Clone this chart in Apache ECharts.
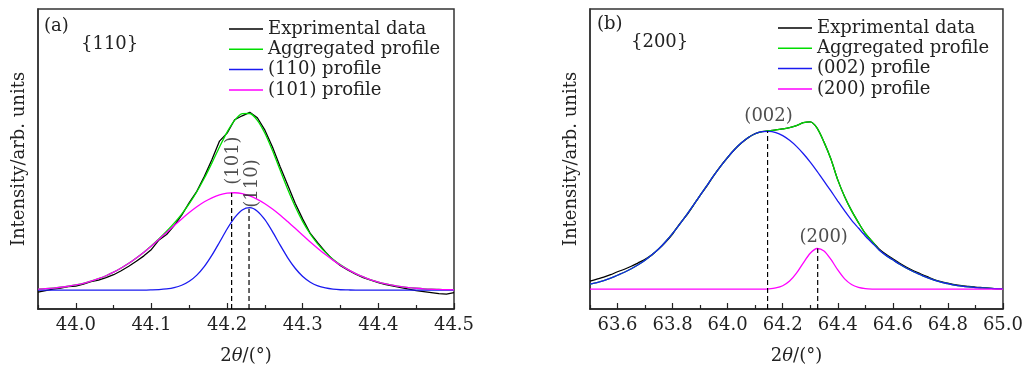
<!DOCTYPE html>
<html><head><meta charset="utf-8">
<script src="https://cdn.jsdelivr.net/npm/echarts@6/dist/echarts.min.js"></script>
<style>html,body{margin:0;padding:0;background:#fff}#c{width:1026px;height:370px}</style>
</head><body><div id="c"></div>
<script>
// ---------- Panel (a) data : 2θ (deg) vs intensity (arb.) ----------
const xA = [43.95,43.96,43.97,43.98,43.99,44.00,44.01,44.02,44.03,44.04,44.05,44.06,44.07,44.08,44.09,
  44.10,44.11,44.12,44.13,44.14,44.15,44.16,44.17,44.18,44.19,44.20,44.21,44.22,44.23,44.24,44.25,
  44.26,44.27,44.28,44.29,44.30,44.31,44.32,44.33,44.34,44.35,44.36,44.37,44.38,44.39,44.40,44.41,
  44.42,44.43,44.44,44.45,44.46,44.47,44.48,44.49,44.50];
const expA = [17.0,18.5,20.0,21.0,22.5,23.0,25.0,27.5,29.0,31.5,34.5,38.5,43.0,48.0,53.5,
  60.0,69.5,75.0,84.0,94.5,107.0,118.5,133.5,150.5,169.0,177.0,190.5,194.5,198.0,192.5,180.0,
  163.0,143.5,125.0,106.5,90.5,76.0,66.5,57.5,49.5,43.5,39.0,35.0,31.5,29.0,26.5,24.5,
  23.0,21.5,20.0,18.5,17.5,16.5,15.5,15.0,16.5];
const aggA = [20.1,20.5,21.1,21.9,22.9,24.3,25.9,28.0,30.5,33.5,37.1,41.3,46.0,51.4,57.2,
  63.7,70.7,78.3,86.5,95.6,106.0,118.0,131.8,147.1,163.1,178.1,189.9,196.7,196.8,189.9,176.9,
  159.5,140.1,120.8,103.2,88.0,75.5,65.3,57.0,50.2,44.5,39.8,35.6,32.3,29.4,27.1,25.2,
  23.7,22.5,21.6,20.9,20.3,19.9,19.7,19.5,19.3];
const p110A = [19,19,19,19,19,19,19,19,19,19,19,19,19,19,19,
  19.2,19.5,20.2,21.5,23.9,27.9,34.1,42.9,54.2,67.2,80.5,91.9,99.6,102.0,98.5,89.9,
  77.9,64.5,51.8,41.0,32.7,27.0,23.3,21.2,20.0,19.4,19.2,19,19,19,19,19,
  19,19,19,19,19,19,19,19,19];
const p101A = [20.1,20.5,21.1,21.9,22.9,24.3,25.9,28.0,30.5,33.5,37.1,41.3,46.0,51.4,57.2,
  63.5,70.2,77.1,84.0,90.7,97.1,102.9,107.9,111.9,114.9,116.6,117.0,116.1,113.8,110.4,106.0,
  100.6,94.6,88.0,81.2,74.3,67.5,61.0,54.8,49.2,44.1,39.6,35.6,32.3,29.4,27.1,25.2,
  23.7,22.5,21.6,20.9,20.3,19.9,19.7,19.5,19.3];

// ---------- Panel (b) data ----------
const xB = [63.500,63.525,63.550,63.575,63.600,63.625,63.650,63.675,63.700,63.725,63.750,63.775,
  63.800,63.825,63.850,63.875,63.900,63.925,63.950,63.975,64.000,
  64.025,64.050,64.075,64.100,64.125,64.150,64.175,64.200,64.225,64.250,64.275,64.300,64.325,
  64.350,64.375,64.400,64.425,64.450,64.475,64.500,
  64.525,64.550,64.575,64.600,64.625,64.650,64.675,64.700,64.725,64.750,64.775,64.800,64.825,
  64.850,64.875,64.900,64.925,64.950,64.975,65.000];
const expB = [28,30,32,34.5,37.5,40,43,46.5,50,54.5,60.5,67.5,75.5,85.5,94,104,114.5,124,134.5,144,152.5,
  160.5,167,172.5,176.5,178.5,179.5,180.3,181.3,182.5,184.5,187.5,188.3,182,168,151,130,113,99,87,76,
  68,60.5,55,50.5,46,42,38.5,35.5,32.5,29.5,27.5,26,24.5,23.5,22.8,22,21.5,21,20.5,20.2];
const aggB = [25,26.5,28.5,31,34,37,40.5,44.5,49,54.5,60.6,68.0,76.2,85.0,94.4,104.3,114.3,124.4,134.4,143.9,152.7,
  160.6,167.3,172.6,176.4,178.5,179.5,180.3,181.3,182.5,184.5,187.5,188.3,182,168,151,130,113,99,87,76,
  68,59.5,54,49.5,45,41,37.5,34.5,31.5,29,27,25.5,24,23,22.2,21.6,21.2,20.8,20.4,20.2];
const p002B = [25,26.5,28.5,31,34,37,40.5,44.5,49,54.5,60.6,68.0,76.2,85.0,94.4,104.3,114.3,124.4,134.4,143.9,152.7,
  160.6,167.3,172.6,176.4,178.5,178.9,177.6,174.5,169.8,163.7,156.3,147.9,138.6,128.8,118.8,108.7,98.7,89.5,81.5,73.5,
  66.5,59.5,54,49.5,45,41,37.5,34.5,31.5,29,27,25.5,24,23,22.2,21.6,21.2,20.8,20.4,20.2];
const p200B = [20,20,20,20,20,20,20,20,20,20,20,20,20,20,20,20,20,20,20,20,20,
  20,20,20,20,20,20.3,21.2,23.4,28.1,36.1,46.5,56.1,60.9,58.4,49.9,39.3,30.3,24.6,21.7,20.5,
  20.1,20,20,20,20,20,20,20,20,20,20,20,20,20,20,20,20,20,20,20];

// ---------- Axis ticks ----------
const ticksA = [44.0,44.1,44.2,44.3,44.4,44.5];
const minorA = [43.95,44.05,44.15,44.25,44.35,44.45];
const ticksB = [63.6,63.8,64.0,64.2,64.4,64.6,64.8,65.0];
const minorB = [63.5,63.7,63.9,64.1,64.3,64.5,64.7,64.9];

// ---------- Peak markers ----------
const peakNamesA = ['(101)','(110)'];
const peakXA = [44.206, 44.229];
const peakYA = [117, 101];
const peakNamesB = ['(002)','(200)'];
const peakXB = [64.145, 64.327];
const peakYB = [179, 61];

const namesA = ['Exprimental data','Aggregated profile','(110) profile','(101) profile'];
const namesB = ['Exprimental data','Aggregated profile','(002) profile','(200) profile'];
const yMax = 302;

// ---------- styling ----------
const FONT = 'DejaVu Serif';
const FS = 18;
const colors = ['#000000','#00dd00','#1a1af0','#ff00ff'];
const zip = (xs, ys) => xs.map((x, i) => [x, ys[i]]);

function mainX(grid, min, max, ticks) {
  return {
    type:'value', gridIndex:grid, min:min, max:max, position:'bottom',
    axisLine:{show:true, onZero:false, lineStyle:{color:'#222', width:1.5}},
    axisTick:{show:true, inside:true, length:6, customValues:ticks, lineStyle:{color:'#222', width:1.2}},
    axisLabel:{show:true, customValues:ticks, formatter:v => v.toFixed(1), margin:7,
      fontFamily:FONT, fontSize:FS, color:'#222'},
    splitLine:{show:false},
    name:'2{i|θ}/(°)', nameLocation:'middle', nameGap:38,
    nameTextStyle:{fontFamily:FONT, fontSize:FS, color:'#222',
      rich:{i:{fontFamily:FONT, fontSize:FS, fontStyle:'italic', color:'#222'}}}
  };
}
function minorX(grid, min, max, ticks) {
  return {
    type:'value', gridIndex:grid, min:min, max:max, position:'bottom',
    axisLine:{show:false, onZero:false},
    axisTick:{show:true, inside:true, length:4, customValues:ticks, lineStyle:{color:'#222', width:1.2}},
    axisLabel:{show:false}, splitLine:{show:false}
  };
}
function yAx(grid) {
  return {
    type:'value', gridIndex:grid, min:0, max:yMax,
    axisLine:{show:true, lineStyle:{color:'#333', width:1.5}},
    axisTick:{show:false}, axisLabel:{show:false}, splitLine:{show:false},
    name:'Intensity/arb. units', nameLocation:'middle', nameGap:10,
    nameTextStyle:{fontFamily:FONT, fontSize:FS, color:'#222'}
  };
}
function curve(name, xi, yi, data, color, smooth, z) {
  return {
    type:'line', name:name, xAxisIndex:xi, yAxisIndex:yi, data:data,
    showSymbol:false, symbol:'none', smooth:smooth,
    color:color, lineStyle:{color:color, width:1.3}, z:z, silent:true, clip:true
  };
}
function dashLines(xi, yi, xs, ys) {
  return xs.map((x, i) => ({
    type:'line', xAxisIndex:xi, yAxisIndex:yi, data:[[x, 0],[x, ys[i]]],
    showSymbol:false, symbol:'none', lineStyle:{color:'#000', width:1.2, type:[5,3]}, z:10, silent:true
  }));
}
function peakLabels(xi, yi, names, xs, ys, lstyles) {
  return {
    type:'scatter', xAxisIndex:xi, yAxisIndex:yi, symbolSize:0, z:11, silent:true,
    data: names.map((n, i) => ({name:n, value:[xs[i], ys[i]], label:lstyles[i]}))
  };
}
const labBase = {show:true, formatter:p => p.name, fontFamily:FONT, fontSize:FS, color:'#222'};
const labA = [
  Object.assign({}, labBase, {position:'top', distance:8, rotate:90, align:'left', verticalAlign:'middle', offset:[0,2]}),
  Object.assign({}, labBase, {position:'top', distance:1, rotate:90, align:'left', verticalAlign:'middle', offset:[0,3]})
];
const labB = [
  Object.assign({}, labBase, {position:'top', distance:6, offset:[1,0]}),
  Object.assign({}, labBase, {position:'top', distance:2, offset:[6,0]})
];

const chart = echarts.init(document.getElementById('c'), null, {renderer:'canvas'});
chart.setOption({
  animation:false,
  backgroundColor:'#fff',
  grid:[
    {left:38, top:9, width:416, height:302, show:true, borderColor:'#333', borderWidth:1.5, backgroundColor:'transparent'},
    {left:590, top:9, width:416, height:302, show:true, borderColor:'#333', borderWidth:1.5, backgroundColor:'transparent'}
  ],
  xAxis:[ mainX(0, 43.95, 44.5, ticksA), minorX(0, 43.95, 44.5, minorA),
          mainX(1, 63.5, 65.0, ticksB), minorX(1, 63.5, 65.0, minorB) ],
  yAxis:[ yAx(0), yAx(1) ],
  legend:[
    {data:namesA, orient:'vertical', left:229, top:19, padding:0, itemGap:0.3, icon:'rect',
     itemWidth:34, itemHeight:1.5, selectedMode:false,
     textStyle:{fontFamily:FONT, fontSize:FS, color:'#222', lineHeight:20}},
    {data:namesB, orient:'vertical', left:778, top:18, padding:0, itemGap:0.3, icon:'rect',
     itemWidth:34, itemHeight:1.5, selectedMode:false,
     textStyle:{fontFamily:FONT, fontSize:FS, color:'#222', lineHeight:20}}
  ],
  graphic:[
    {type:'text', left:44, top:17, style:{text:'(a)', font:FS + 'px "DejaVu Serif"', fill:'#222'}},
    {type:'text', left:81, top:35, style:{text:'{110}', font:FS + 'px "DejaVu Serif"', fill:'#222'}},
    {type:'text', left:597, top:15, style:{text:'(b)', font:FS + 'px "DejaVu Serif"', fill:'#222'}},
    {type:'text', left:631, top:33, style:{text:'{200}', font:FS + 'px "DejaVu Serif"', fill:'#222'}}
  ],
  series:[
    curve(namesA[0], 0, 0, zip(xA, expA), colors[0], false, 2),
    curve(namesA[1], 0, 0, zip(xA, aggA), colors[1], 0.25, 3),
    curve(namesA[2], 0, 0, zip(xA, p110A), colors[2], 0.25, 4),
    curve(namesA[3], 0, 0, zip(xA, p101A), colors[3], 0.25, 5),
    ...dashLines(0, 0, peakXA, peakYA),
    peakLabels(0, 0, peakNamesA, peakXA, peakYA, labA),
    curve(namesB[0], 2, 1, zip(xB, expB), colors[0], 0.25, 2),
    curve(namesB[1], 2, 1, zip(xB, aggB), colors[1], 0.25, 3),
    curve(namesB[2], 2, 1, zip(xB, p002B), colors[2], 0.25, 4),
    curve(namesB[3], 2, 1, zip(xB, p200B), colors[3], 0.25, 5),
    ...dashLines(2, 1, peakXB, peakYB),
    peakLabels(2, 1, peakNamesB, peakXB, peakYB, labB)
  ]
});
</script></body></html>
